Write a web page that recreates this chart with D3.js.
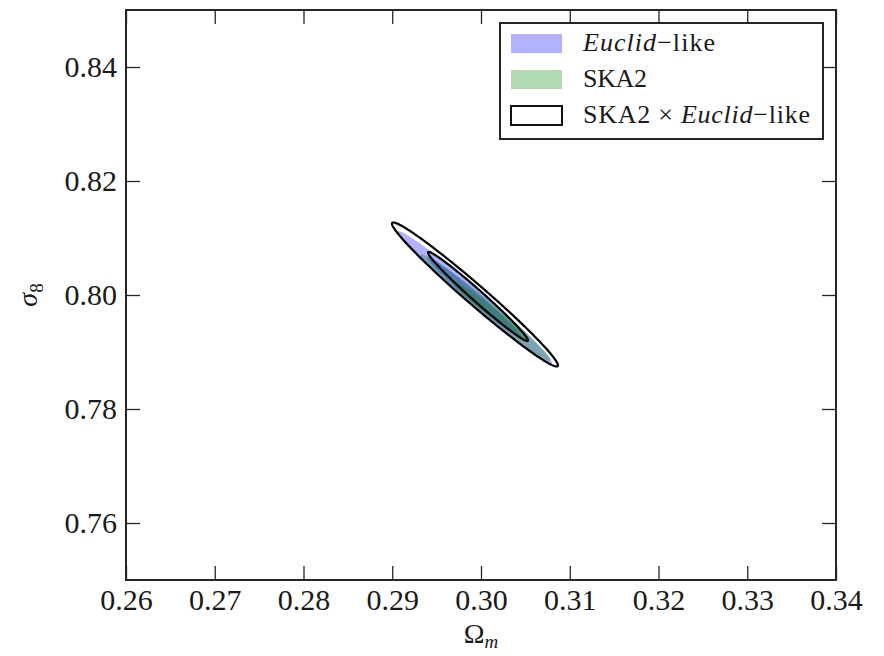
<!DOCTYPE html>
<html>
<head>
<meta charset="utf-8">
<script src="https://cdn.jsdelivr.net/npm/d3@7"></script>
<style>
  html, body { margin: 0; padding: 0; background: #fff; }
  svg { display: block; }
  text { font-family: "Liberation Serif", "DejaVu Serif", serif; }
</style>
</head>
<body>
<svg id="chart" width="884" height="656"></svg>
<script>
// ---------- data ----------
const xTicks = [0.26, 0.27, 0.28, 0.29, 0.30, 0.31, 0.32, 0.33, 0.34];
const yTicks = [0.76, 0.78, 0.80, 0.82, 0.84];
const xDomain = [0.26, 0.34];
const yDomain = [0.75, 0.85];

// contour ellipses: centre (Omega_m, sigma_8), half-extents, correlation
const euclidContours = [
  { level: "2sigma", cx: 0.29927, cy: 0.79956, hx: 0.00873, hy: 0.01167, rho: -0.9862 },
  { level: "1sigma", cx: 0.29927, cy: 0.79956, hx: 0.00533, hy: 0.00712, rho: -0.9850 }
];
const ska2Contours = [
  { level: "2sigma", cx: 0.30050, cy: 0.79780, hx: 0.00735, hy: 0.00935, rho: -0.9830 },
  { level: "1sigma", cx: 0.30096, cy: 0.79730, hx: 0.00423, hy: 0.00515, rho: -0.9790 }
];
const combinedContours = [
  { level: "2sigma", cx: 0.29932, cy: 0.80009, hx: 0.00935, hy: 0.01263, rho: -0.9836 },
  { level: "1sigma", cx: 0.29966, cy: 0.79974, hx: 0.00563, hy: 0.00781, rho: -0.9857 }
];

const legendItems = [
  { key: "euclid", len: 132, parts: [{ t: "Euclid", it: true }, { t: "\u2212like", it: false }] },
  { key: "ska2", len: 64, parts: [{ t: "SKA2", it: false }] },
  { key: "combined", len: 227, parts: [{ t: "SKA2 \u00d7 ", it: false }, { t: "Euclid", it: true }, { t: "\u2212like", it: false }] }
];

// ---------- layout ----------
const svg = d3.select("#chart");
const L = 126, R = 836, T = 10, B = 580;
const x = d3.scaleLinear().domain(xDomain).range([L, R]);
const y = d3.scaleLinear().domain(yDomain).range([B, T]);

const blueFill = "rgb(0,0,255)";
const greenFill = "rgb(0,128,0)";
const fillAlpha = 0.3;
const frameColor = "#262626";

function ellipsePoints(e, n = 240) {
  const s = Math.sqrt(1 - e.rho * e.rho);
  return d3.range(n + 1).map(i => {
    const t = (i / n) * 2 * Math.PI;
    const ox = e.hx * Math.cos(t);
    const oy = e.hy * (e.rho * Math.cos(t) + s * Math.sin(t));
    return [e.cx + ox, e.cy + oy];
  });
}
const line = d3.line().x(d => x(d[0])).y(d => y(d[1])).curve(d3.curveLinearClosed);

const plot = svg.append("g");
plot.append("defs").append("clipPath").attr("id", "clip")
  .append("rect").attr("x", L).attr("y", T).attr("width", R - L).attr("height", B - T);
const cg = plot.append("g").attr("clip-path", "url(#clip)");

cg.selectAll("path.euclid").data(euclidContours).join("path")
  .attr("class", "euclid")
  .attr("d", d => line(ellipsePoints(d)))
  .attr("fill", blueFill).attr("fill-opacity", fillAlpha).attr("stroke", "none");

cg.selectAll("path.ska2").data(ska2Contours).join("path")
  .attr("class", "ska2")
  .attr("d", d => line(ellipsePoints(d)))
  .attr("fill", greenFill).attr("fill-opacity", fillAlpha).attr("stroke", "none");

cg.selectAll("path.comb").data(combinedContours).join("path")
  .attr("class", "comb")
  .attr("d", d => line(ellipsePoints(d)))
  .attr("fill", "none").attr("stroke", "#000").attr("stroke-width", 2.2);

// ---------- axes ----------
const tickLen = 14;
const fmt = d3.format(".2f");

const xAxisB = svg.append("g").attr("transform", `translate(0,${B})`)
  .call(d3.axisBottom(x).tickValues(xTicks).tickFormat(fmt).tickSizeInner(-tickLen).tickSizeOuter(0).tickPadding(9));
const xAxisT = svg.append("g").attr("transform", `translate(0,${T})`)
  .call(d3.axisTop(x).tickValues(xTicks).tickFormat("").tickSizeInner(-tickLen).tickSizeOuter(0));
const yAxisL = svg.append("g").attr("transform", `translate(${L},0)`)
  .call(d3.axisLeft(y).tickValues(yTicks).tickFormat(fmt).tickSizeInner(-tickLen).tickSizeOuter(0).tickPadding(9));
const yAxisR = svg.append("g").attr("transform", `translate(${R},0)`)
  .call(d3.axisRight(y).tickValues(yTicks).tickFormat("").tickSizeInner(-tickLen).tickSizeOuter(0));

[xAxisB, xAxisT, yAxisL, yAxisR].forEach(g => {
  g.select(".domain").remove();
  g.selectAll(".tick line").attr("stroke", frameColor).attr("stroke-width", 1.3);
  g.selectAll(".tick text").attr("fill", "#1a1a1a").attr("font-size", 30)
    .attr("font-family", "'Liberation Serif', 'DejaVu Serif', serif");
});

svg.append("rect").attr("x", L).attr("y", T).attr("width", R - L).attr("height", B - T)
  .attr("fill", "none").attr("stroke", frameColor).attr("stroke-width", 2);

// axis labels
const xl = svg.append("text").attr("x", (L + R) / 2).attr("y", 643)
  .attr("text-anchor", "middle").attr("font-size", 28).attr("fill", "#1a1a1a");
xl.append("tspan").text("\u03a9");
xl.append("tspan").attr("font-style", "italic").attr("font-size", 19).attr("dy", 5).text("m");

const yl = svg.append("text")
  .attr("transform", `translate(37,${y(0.80)}) rotate(-90)`)
  .attr("text-anchor", "middle").attr("font-size", 28).attr("fill", "#1a1a1a");
yl.append("tspan").attr("font-style", "italic").text("\u03c3");
yl.append("tspan").attr("font-size", 19).attr("dy", 6).text("8");

// ---------- legend ----------
const lg = svg.append("g");
lg.append("rect").attr("x", 500).attr("y", 23).attr("width", 323).attr("height", 116)
  .attr("fill", "#fff").attr("stroke", frameColor).attr("stroke-width", 2);
const rowY = [43, 79, 115];
legendItems.forEach((it, i) => {
  const r = lg.append("rect").attr("x", 511).attr("y", rowY[i] - 9).attr("width", 51).attr("height", 19);
  if (it.key === "euclid") r.attr("fill", blueFill).attr("fill-opacity", fillAlpha);
  else if (it.key === "ska2") r.attr("fill", greenFill).attr("fill-opacity", fillAlpha);
  else r.attr("fill", "#fff").attr("stroke", "#111").attr("stroke-width", 2);
  const t = lg.append("text").attr("x", 583).attr("y", rowY[i] + 8).attr("font-size", 26).attr("fill", "#1a1a1a")
    .attr("textLength", it.len).attr("lengthAdjust", "spacing");
  it.parts.forEach(p => t.append("tspan").attr("font-style", p.it ? "italic" : "normal").text(p.t));
});
</script>
</body>
</html>
